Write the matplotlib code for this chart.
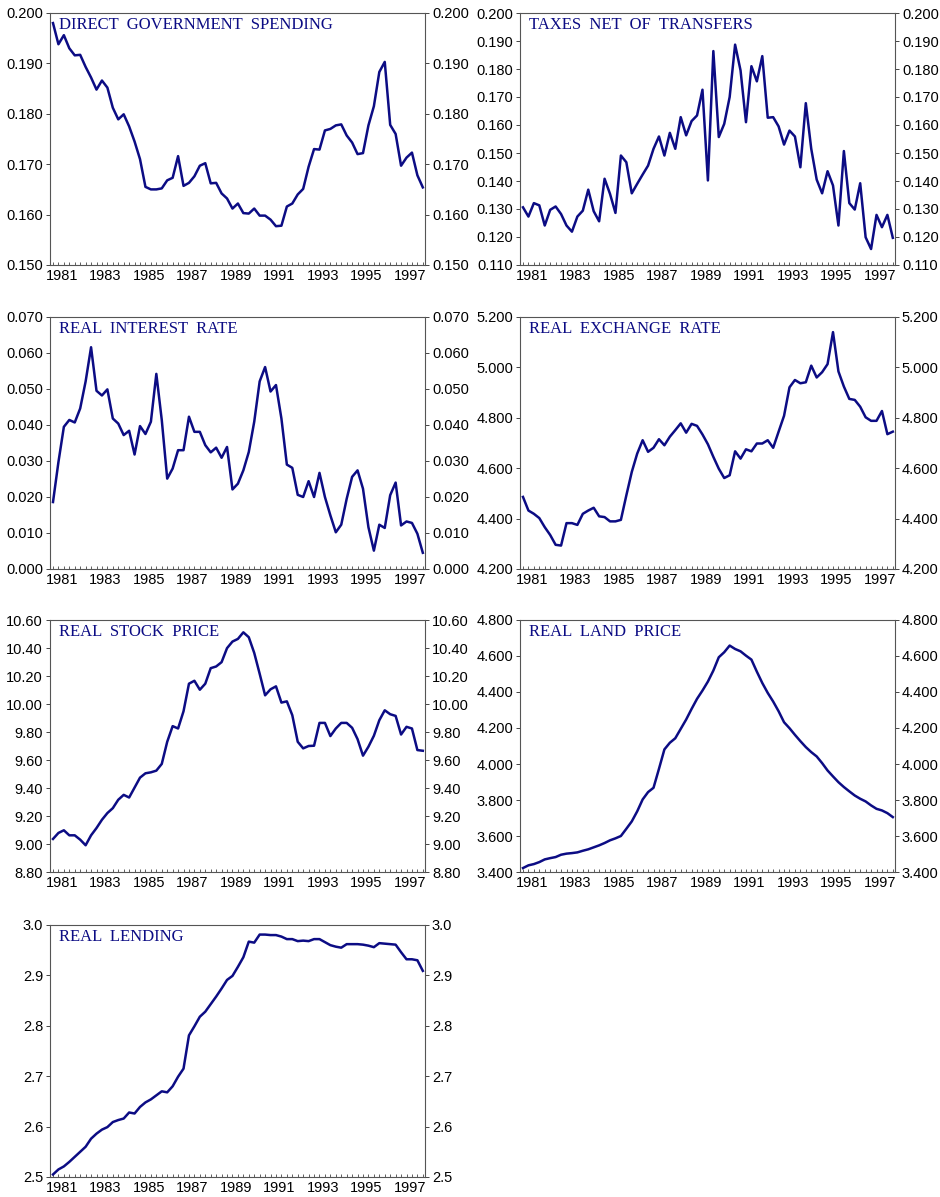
import numpy as np
import matplotlib
matplotlib.use("Agg")
import matplotlib.pyplot as plt
from matplotlib.ticker import FormatStrFormatter, FixedLocator, MultipleLocator

# quarterly observations, 1980Q4 .. 1997Q4
year_labels = ["1981", "1983", "1985", "1987", "1989", "1991", "1993", "1995", "1997"]

gov_spending = [0.1980, 0.1938, 0.1956, 0.1930, 0.1916, 0.1917, 0.1893, 0.1872, 0.1848, 0.1866,
                0.1852, 0.1812, 0.1789, 0.1799, 0.1775, 0.1745, 0.1710, 0.1655, 0.1650, 0.1650,
                0.1652, 0.1668, 0.1673, 0.1716, 0.1657, 0.1663, 0.1676, 0.1697, 0.1702, 0.1662,
                0.1663, 0.1642, 0.1632, 0.1612, 0.1622, 0.1603, 0.1602, 0.1612, 0.1598, 0.1598,
                0.1590, 0.1577, 0.1578, 0.1616, 0.1622, 0.1640, 0.1651, 0.1695, 0.1730, 0.1729,
                0.1767, 0.1770, 0.1777, 0.1779, 0.1757, 0.1743, 0.1720, 0.1722, 0.1777, 0.1815,
                0.1883, 0.1903, 0.1778, 0.1760, 0.1697, 0.1713, 0.1723, 0.1678, 0.1654]

taxes_net = [0.1306, 0.1273, 0.1321, 0.1313, 0.1241, 0.1297, 0.1309, 0.1282, 0.1241, 0.1219,
             0.1273, 0.1294, 0.1369, 0.1292, 0.1256, 0.1408, 0.1354, 0.1286, 0.1491, 0.1467,
             0.1356, 0.1390, 0.1423, 0.1455, 0.1515, 0.1559, 0.1491, 0.1572, 0.1515, 0.1628,
             0.1563, 0.1614, 0.1634, 0.1726, 0.1402, 0.1864, 0.1557, 0.1604, 0.1700, 0.1887,
             0.1795, 0.1610, 0.1810, 0.1756, 0.1846, 0.1626, 0.1628, 0.1595, 0.1530, 0.1580,
             0.1559, 0.1449, 0.1678, 0.1515, 0.1405, 0.1356, 0.1435, 0.1384, 0.1241, 0.1507,
             0.1321, 0.1298, 0.1392, 0.1199, 0.1157, 0.1279, 0.1235, 0.1279, 0.1197]

interest_rate = [0.0186, 0.0297, 0.0395, 0.0414, 0.0407, 0.0446, 0.0521, 0.0616, 0.0495, 0.0482,
                 0.0499, 0.0418, 0.0404, 0.0372, 0.0384, 0.0318, 0.0397, 0.0375, 0.0409, 0.0542,
                 0.0414, 0.0251, 0.0279, 0.0330, 0.0330, 0.0423, 0.0381, 0.0381, 0.0344, 0.0324,
                 0.0337, 0.0309, 0.0339, 0.0221, 0.0237, 0.0274, 0.0325, 0.0409, 0.0521, 0.0561,
                 0.0493, 0.0511, 0.0418, 0.0290, 0.0281, 0.0206, 0.0200, 0.0244, 0.0200, 0.0267,
                 0.0200, 0.0149, 0.0102, 0.0123, 0.0195, 0.0256, 0.0274, 0.0223, 0.0116, 0.0051,
                 0.0123, 0.0114, 0.0205, 0.0240, 0.0121, 0.0132, 0.0128, 0.0098, 0.0045]

exchange_rate = [4.486, 4.432, 4.419, 4.402, 4.366, 4.335, 4.296, 4.293, 4.382, 4.382,
                 4.375, 4.419, 4.432, 4.443, 4.409, 4.406, 4.389, 4.389, 4.395, 4.492,
                 4.585, 4.658, 4.711, 4.665, 4.681, 4.715, 4.691, 4.725, 4.751, 4.778,
                 4.741, 4.776, 4.768, 4.734, 4.695, 4.645, 4.598, 4.561, 4.572, 4.667,
                 4.638, 4.675, 4.667, 4.698, 4.698, 4.711, 4.681, 4.745, 4.808, 4.921,
                 4.950, 4.937, 4.941, 5.007, 4.960, 4.981, 5.013, 5.140, 4.984, 4.924,
                 4.875, 4.871, 4.844, 4.802, 4.788, 4.788, 4.827, 4.735, 4.745]

stock_price = [9.036, 9.079, 9.098, 9.062, 9.062, 9.031, 8.991, 9.062, 9.114, 9.173,
               9.221, 9.256, 9.316, 9.351, 9.332, 9.403, 9.474, 9.505, 9.512, 9.524,
               9.572, 9.730, 9.842, 9.825, 9.948, 10.145, 10.166, 10.102, 10.145, 10.256,
               10.268, 10.299, 10.399, 10.446, 10.465, 10.512, 10.477, 10.365, 10.216, 10.062,
               10.105, 10.126, 10.010, 10.019, 9.920, 9.730, 9.683, 9.700, 9.702, 9.865,
               9.865, 9.771, 9.825, 9.865, 9.865, 9.830, 9.749, 9.631, 9.695, 9.773,
               9.884, 9.955, 9.927, 9.915, 9.782, 9.837, 9.825, 9.671, 9.666]

land_price = [3.422, 3.437, 3.444, 3.455, 3.470, 3.477, 3.483, 3.496, 3.502, 3.505,
              3.509, 3.518, 3.526, 3.537, 3.548, 3.561, 3.576, 3.587, 3.600, 3.640,
              3.681, 3.737, 3.803, 3.844, 3.868, 3.973, 4.081, 4.118, 4.143, 4.195,
              4.247, 4.306, 4.362, 4.408, 4.458, 4.519, 4.593, 4.621, 4.658, 4.639,
              4.626, 4.602, 4.580, 4.513, 4.450, 4.395, 4.347, 4.293, 4.232, 4.199,
              4.162, 4.127, 4.094, 4.066, 4.042, 4.005, 3.964, 3.931, 3.899, 3.872,
              3.848, 3.825, 3.807, 3.792, 3.770, 3.751, 3.742, 3.727, 3.705]

lending = [2.505, 2.515, 2.521, 2.530, 2.540, 2.550, 2.560, 2.576, 2.586, 2.594,
           2.599, 2.609, 2.613, 2.616, 2.628, 2.626, 2.639, 2.648, 2.654, 2.662,
           2.670, 2.668, 2.680, 2.699, 2.715, 2.781, 2.799, 2.818, 2.828, 2.843,
           2.858, 2.874, 2.891, 2.899, 2.917, 2.936, 2.967, 2.965, 2.981, 2.981,
           2.980, 2.980, 2.977, 2.972, 2.972, 2.968, 2.969, 2.968, 2.972, 2.972,
           2.966, 2.960, 2.957, 2.955, 2.962, 2.962, 2.962, 2.961, 2.959, 2.956,
           2.964, 2.963, 2.962, 2.961, 2.946, 2.932, 2.932, 2.930, 2.909]

LINE_COLOR = "#0c0c84"
TITLE_COLOR = "#0c0c84"
W, H = 940, 1197

# (title, series, ymin, ymax, step, fmt, col, top px)
panels = [
    ("DIRECT  GOVERNMENT  SPENDING", gov_spending, 0.150, 0.200, 0.010, "%.3f", 0, 13),
    ("TAXES  NET  OF  TRANSFERS", taxes_net, 0.110, 0.200, 0.010, "%.3f", 1, 13),
    ("REAL  INTEREST  RATE", interest_rate, 0.000, 0.070, 0.010, "%.3f", 0, 317),
    ("REAL  EXCHANGE  RATE", exchange_rate, 4.200, 5.200, 0.200, "%.3f", 1, 317),
    ("REAL  STOCK  PRICE", stock_price, 8.80, 10.60, 0.20, "%.2f", 0, 620),
    ("REAL  LAND  PRICE", land_price, 3.400, 4.800, 0.200, "%.3f", 1, 620),
    ("REAL  LENDING", lending, 2.5, 3.0, 0.1, "%.1f", 0, 925),
]

fig = plt.figure(figsize=(W / 100, H / 100), dpi=100)

for title, series, ymin, ymax, step, fmt, col, top in panels:
    left = 50 if col == 0 else 520
    height = 252
    ax = fig.add_axes([left / W, (H - top - height) / H, 375 / W, height / H])
    x = np.arange(len(series))
    ax.plot(x, series, color=LINE_COLOR, lw=1.8)
    ax.set_xlim(-0.55, len(series) - 1 + 0.4)
    ax.set_ylim(ymin, ymax)

    yt = np.arange(ymin, ymax + step / 2, step)
    ax.yaxis.set_major_locator(FixedLocator(yt))
    ax.yaxis.set_major_formatter(FormatStrFormatter(fmt))

    # year labels every two years, small quarter ticks along the bottom
    ax.set_xticks([1.65 + 8 * k for k in range(len(year_labels))])
    ax.set_xticklabels(year_labels)
    ax.xaxis.set_minor_locator(MultipleLocator(1))
    ax.tick_params(axis="x", which="major", length=0, pad=3, labelsize=10.5)
    ax.tick_params(axis="x", which="minor", direction="in", length=2, width=0.6, color="#444444")

    ax.tick_params(axis="y", which="major", direction="out", length=3, width=0.7,
                   labelsize=10.5, pad=2, right=True, labelright=True, color="#444444")
    for lbl in ax.get_xticklabels() + ax.get_yticklabels():
        lbl.set_fontfamily("Liberation Sans")

    for sp in ax.spines.values():
        sp.set_color("#555555")
        sp.set_linewidth(0.8)

    ax.text(9 / 375, 1 - 4 / height, title, transform=ax.transAxes, ha="left", va="top",
            color=TITLE_COLOR, fontsize=12, family="Liberation Serif")

fig.savefig("out.png", dpi=100)
